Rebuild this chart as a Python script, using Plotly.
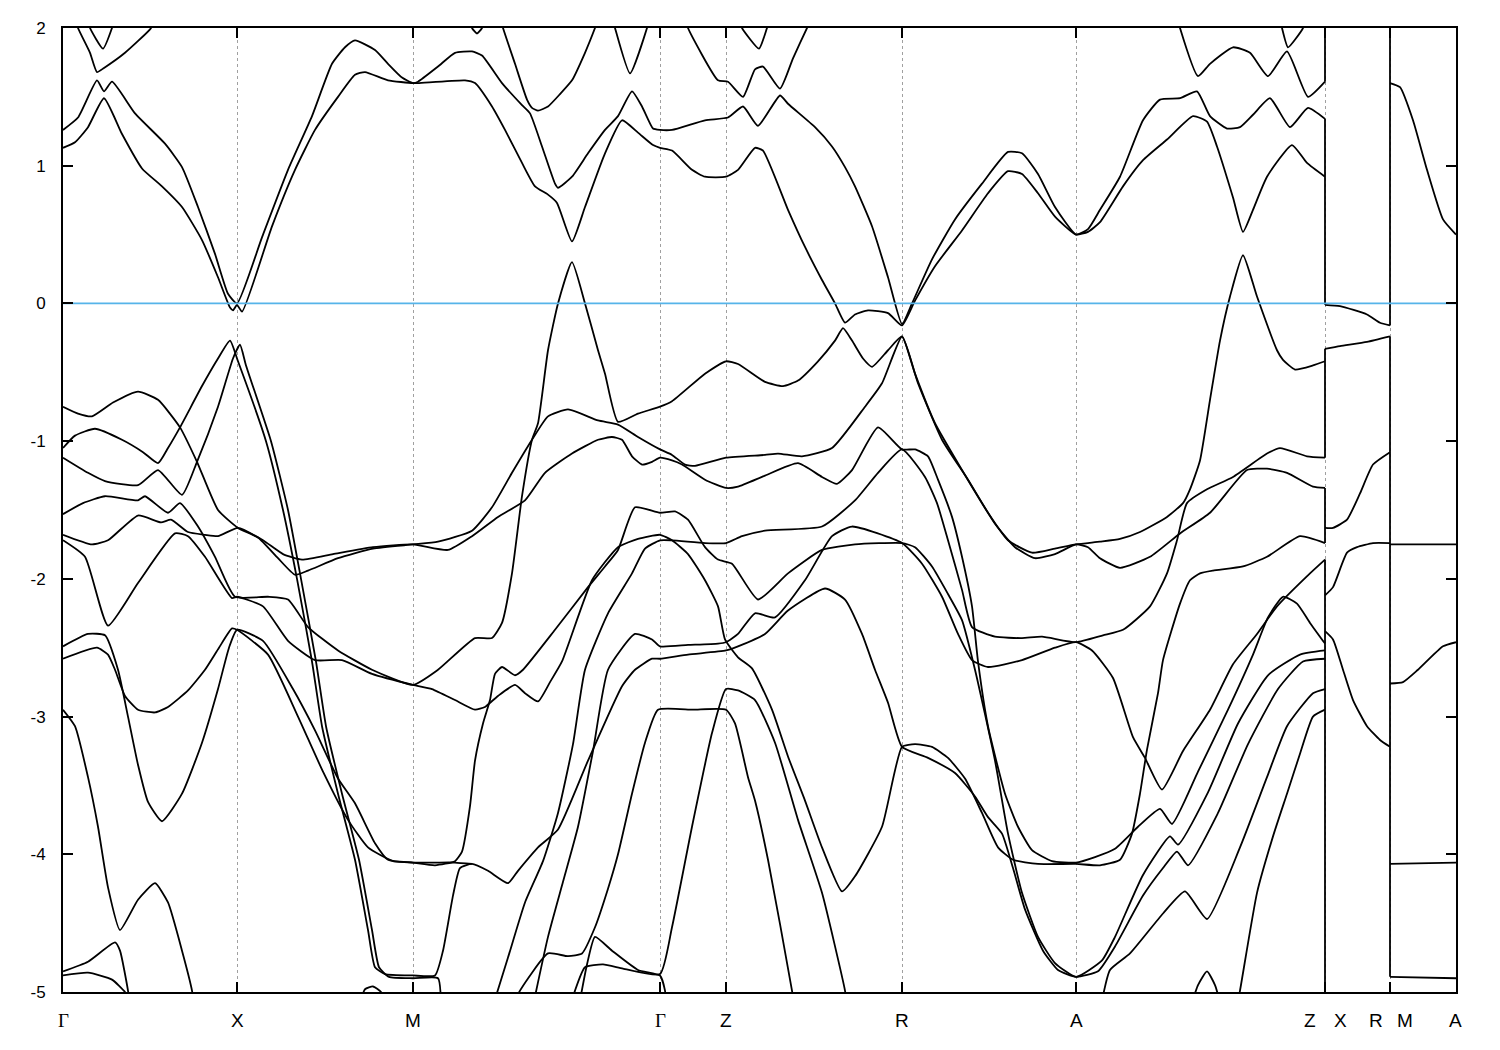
import plotly.graph_objects as go

# ---------------- axis / path definitions ----------------
K_GRID = [1.74, 3.50, 5.97, 6.63, 8.39, 10.13, 12.62, 13.27]
K_END = 13.93
LABEL_K = [0.0, 1.74, 3.50, 5.97, 6.63, 8.39, 10.13, 12.47, 12.77, 13.13, 13.42, 13.92]
LABEL_TEXT = ["Γ", "X", "M", "Γ", "Z", "R", "A", "Z", "X", "R", "M", "A"]
E_TICKS = [2, 1, 0, -1, -2, -3, -4, -5]

# ---------------- conduction bands (k, E) ----------------
C_TOP_LEFT = [(0.12,2.08),(0.15,2.0),(0.27,1.82),(0.34,1.68),(0.41,1.71),(0.62,1.82),(0.87,1.99),(0.92,2.05)]
C_TOP_V = [(0.24,2.08),(0.27,2.0),(0.40,1.85),(0.49,2.0),(0.52,2.08)]
C_UPPER = [(0.0,1.26),(0.15,1.35),(0.34,1.62),(0.41,1.54),(0.49,1.61),(0.72,1.38),(1.02,1.16),(1.19,0.99),
           (1.35,0.70),(1.52,0.36),(1.65,0.07),(1.74,0.0),(1.99,0.48),(2.25,0.97),(2.49,1.36),(2.69,1.74),
           (2.82,1.86),(2.92,1.91),(3.12,1.84),(3.25,1.74),(3.39,1.64),(3.50,1.60),(3.55,1.61),(3.75,1.72),
           (3.92,1.82),(4.09,1.83),(4.19,1.80),(4.39,1.60),(4.59,1.44),(4.67,1.38),(4.79,1.14),(4.92,0.87),
           (4.95,0.84),(5.09,0.92),(5.25,1.09),(5.42,1.26),(5.55,1.36),(5.69,1.54),(5.79,1.43),(5.90,1.27),
           (5.97,1.26),(6.09,1.26),(6.42,1.33),(6.65,1.35),(6.80,1.43),(6.95,1.29),(7.17,1.51),(7.25,1.45),
           (7.52,1.28),(7.69,1.14),(7.82,0.99),(7.92,0.85),(8.09,0.56),(8.25,0.19),(8.39,-0.15),(8.49,0.0),
           (8.69,0.32),(8.92,0.61),(9.19,0.87),(9.45,1.10),(9.59,1.09),(9.75,0.94),(9.92,0.70),(10.13,0.50),
           (10.25,0.54),(10.37,0.68),(10.57,0.92),(10.80,1.33),(10.97,1.48),(11.17,1.49),(11.34,1.54),
           (11.47,1.36),(11.64,1.27),(11.77,1.28),(11.90,1.37),(12.07,1.49),(12.27,1.28),(12.45,1.42),(12.62,1.34)]
C_LOWER = [(0.0,1.13),(0.12,1.17),(0.25,1.28),(0.41,1.49),(0.59,1.23),(0.79,0.98),(0.99,0.85),(1.19,0.70),
           (1.39,0.46),(1.55,0.19),(1.67,-0.03),(1.70,-0.05),(1.74,-0.01),(1.79,-0.06),(2.09,0.56),(2.32,0.97),
           (2.52,1.26),(2.75,1.50),(2.92,1.66),(3.02,1.68),(3.25,1.62),(3.50,1.60),(3.55,1.60),(4.02,1.62),
           (4.12,1.60),(4.29,1.43),(4.42,1.26),(4.59,1.02),(4.72,0.85),(4.85,0.79),(4.94,0.73),(5.09,0.45),
           (5.22,0.70),(5.42,1.09),(5.59,1.33),(5.75,1.24),(5.90,1.15),(5.97,1.13),(6.09,1.11),(6.29,0.97),
           (6.42,0.92),(6.63,0.92),(6.75,0.97),(6.92,1.13),(7.00,1.11),(7.25,0.68),(7.42,0.41),(7.59,0.17),
           (7.72,0.0),(7.82,-0.14),(7.92,-0.08),(8.05,-0.05),(8.25,-0.07),(8.39,-0.16),(8.52,0.02),(8.72,0.27),
           (8.99,0.53),(9.25,0.80),(9.45,0.96),(9.59,0.94),(9.75,0.80),(9.92,0.63),(10.13,0.50),(10.25,0.52),
           (10.37,0.59),(10.60,0.85),(10.80,1.04),(11.04,1.19),(11.30,1.36),(11.44,1.32),(11.54,1.14),
           (11.70,0.77),(11.80,0.52),(11.90,0.68),(12.04,0.92),(12.29,1.15),(12.44,1.02),(12.62,0.92)]
C_U = [(4.37,2.08),(4.40,2.0),(4.52,1.74),(4.64,1.48),(4.69,1.42),(4.75,1.40),(4.85,1.43),(4.97,1.52),
       (5.09,1.62),(5.22,1.82),(5.32,2.0),(5.35,2.06)]
C_DIP = [(4.07,2.06),(4.09,2.0),(4.14,1.96),(4.19,2.0),(4.21,2.06)]
C_V567 = [(5.50,2.06),(5.52,2.0),(5.67,1.67),(5.84,2.0),(5.86,2.06)]
C_T1 = [(6.23,2.06),(6.25,2.0),(6.55,1.62),(6.65,1.61),(6.80,1.50),(6.92,1.70),(7.00,1.72),(7.17,1.56),
        (7.30,1.78),(7.44,2.0),(7.48,2.06)]
C_T2 = [(6.76,2.06),(6.79,2.0),(6.96,1.85),(7.04,2.0),(7.07,2.06)]
C_AZ_TOP = [(11.15,2.06),(11.17,2.0),(11.35,1.65),(11.47,1.74),(11.70,1.86),(11.87,1.82),(12.05,1.65),
            (12.24,1.83),(12.45,1.50),(12.62,1.61)]
C_AZ_V = [(12.17,2.06),(12.19,2.0),(12.25,1.86),(12.40,2.0),(12.42,2.06)]
C_MA = [(13.27,1.60),(13.37,1.57),(13.50,1.33),(13.64,0.97),(13.80,0.61),(13.93,0.50)]
C_XR = [(12.62,-0.01),(12.77,-0.02),(13.04,-0.08),(13.17,-0.14),(13.27,-0.16)]

# ---------------- valence bands (k, E) ----------------
V_A = [(0.0,-0.75),(0.15,-0.80),(0.29,-0.82),(0.50,-0.72),(0.75,-0.64),(0.95,-0.70),(1.17,-0.90),(1.34,-1.15),
       (1.55,-1.50),(1.75,-1.63),(1.95,-1.70),(2.15,-1.85),(2.32,-1.97),(2.45,-1.94),(2.75,-1.85),(3.10,-1.78),
       (3.50,-1.75),(3.75,-1.73),(4.09,-1.65),(4.29,-1.48),(4.49,-1.23),(4.69,-0.99),(4.85,-0.82),(5.05,-0.77),
       (5.35,-0.85),(5.55,-0.88),(5.75,-0.97),(5.97,-1.06),(6.09,-1.10),(6.22,-1.17),(6.32,-1.18),(6.63,-1.12),
       (7.02,-1.10),(7.15,-1.09),(7.39,-1.11),(7.69,-1.05),(8.02,-0.75),(8.19,-0.58),(8.39,-0.24),(8.52,-0.51),
       (8.72,-0.87),(8.99,-1.21),(9.25,-1.52),(9.45,-1.72),(9.69,-1.81),(9.92,-1.78),(10.13,-1.75),(10.37,-1.73),
       (10.57,-1.71),(10.77,-1.66),(11.04,-1.55),(11.20,-1.45),(11.27,-1.35),(11.37,-1.14),(11.47,-0.70),
       (11.57,-0.27),(11.67,0.05),(11.80,0.35),(11.94,0.05),(12.14,-0.34),(12.20,-0.41),(12.32,-0.48),
       (12.50,-0.45),(12.62,-0.42)]
V_B = [(0.0,-1.05),(0.12,-0.96),(0.32,-0.91),(0.59,-0.99),(0.80,-1.08),(0.95,-1.16),(1.05,-1.05),(1.17,-0.90),
       (1.39,-0.60),(1.55,-0.40),(1.67,-0.27),(1.75,-0.42),(2.03,-1.0),(2.20,-1.5),(2.34,-2.0),(2.49,-2.6),
       (2.59,-3.07),(2.75,-3.56),(2.92,-4.04),(3.05,-4.55),(3.12,-4.82),(3.22,-4.87),(3.50,-4.88),(3.72,-4.88),
       (3.80,-4.70),(3.90,-4.30),(3.97,-4.10),(4.09,-4.07),(4.25,-4.12),(4.45,-4.21),(4.55,-4.12),(4.75,-3.95),
       (4.95,-3.82),(5.25,-3.32),(5.59,-2.78),(5.72,-2.66),(5.89,-2.58),(5.97,-2.58),(6.25,-2.55),(6.63,-2.52),
       (6.75,-2.49),(7.02,-2.40),(7.25,-2.23),(7.62,-2.07),(7.82,-2.15),(7.99,-2.40),(8.12,-2.66),(8.25,-2.90),
       (8.39,-3.22),(8.65,-3.30),(8.92,-3.41),(9.12,-3.58),(9.25,-3.73),(9.39,-3.85),(9.50,-4.10),(9.62,-4.40),
       (9.80,-4.70),(9.95,-4.84),(10.13,-4.89),(10.35,-4.85),(10.52,-4.67),(10.80,-4.30),(11.00,-4.10),
       (11.14,-3.98),(11.25,-4.08),(11.55,-3.70),(11.85,-3.20),(12.15,-2.80),(12.40,-2.60),(12.62,-2.58)]
V_C = [(0.0,-1.12),(0.25,-1.23),(0.42,-1.29),(0.75,-1.32),(0.95,-1.21),(1.19,-1.39),(1.34,-1.15),(1.55,-0.75),
       (1.70,-0.40),(1.77,-0.30),(1.83,-0.45),(2.08,-1.0),(2.25,-1.5),(2.38,-2.0),(2.53,-2.6),(2.63,-3.07),
       (2.79,-3.56),(2.96,-4.04),(3.09,-4.55),(3.16,-4.82),(3.26,-4.89),(3.50,-4.90),(3.75,-4.90),(3.78,-5.1)]
V_D = [(0.0,-1.53),(0.20,-1.45),(0.42,-1.40),(0.75,-1.43),(0.82,-1.40),(1.05,-1.52),(1.17,-1.45),(1.35,-1.62),
       (1.52,-1.84),(1.72,-2.13),(2.05,-2.13),(2.25,-2.15),(2.45,-2.35),(2.75,-2.52),(3.09,-2.66),(3.50,-2.77),
       (3.75,-2.66),(4.12,-2.43),(4.29,-2.43),(4.39,-2.32),(4.49,-1.96),(4.59,-1.40),(4.69,-0.99),(4.75,-0.87),
       (4.85,-0.34),(4.95,0.0),(5.09,0.30),(5.22,0.0),(5.35,-0.34),(5.42,-0.51),(5.55,-0.86),(5.75,-0.80),
       (5.97,-0.75),(6.09,-0.71),(6.42,-0.51),(6.63,-0.42),(6.75,-0.44),(7.02,-0.57),(7.20,-0.60),(7.35,-0.56),
       (7.55,-0.42),(7.72,-0.27),(7.80,-0.18),(7.89,-0.27),(8.00,-0.40),(8.09,-0.46),(8.25,-0.34),(8.39,-0.24),
       (8.55,-0.58),(8.79,-0.99),(9.05,-1.28),(9.32,-1.60),(9.52,-1.77),(9.72,-1.85),(9.92,-1.82),(10.13,-1.75),
       (10.25,-1.77),(10.37,-1.85),(10.57,-1.92),(10.87,-1.84),(11.17,-1.67),(11.47,-1.52),(11.84,-1.21),
       (12.04,-1.20),(12.24,-1.23),(12.50,-1.33),(12.62,-1.34)]
V_E = [(0.0,-1.68),(0.29,-1.75),(0.45,-1.72),(0.75,-1.54),(0.98,-1.59),(1.08,-1.57),(1.25,-1.66),(1.42,-1.68),
       (1.55,-1.69),(1.75,-1.63),(2.00,-1.72),(2.20,-1.82),(2.39,-1.86),(2.70,-1.82),(3.10,-1.77),(3.50,-1.75),
       (3.85,-1.79),(4.09,-1.69),(4.35,-1.55),(4.62,-1.43),(4.82,-1.23),(5.09,-1.09),(5.35,-0.99),(5.49,-0.97),
       (5.59,-0.99),(5.69,-1.11),(5.79,-1.17),(5.89,-1.15),(5.97,-1.12),(6.09,-1.14),(6.19,-1.17),(6.42,-1.28),
       (6.63,-1.34),(6.75,-1.33),(7.02,-1.25),(7.35,-1.16),(7.59,-1.26),(7.74,-1.31),(7.89,-1.21),(8.15,-0.90),
       (8.39,-1.06),(8.52,-1.06),(8.65,-1.11),(8.75,-1.28),(8.89,-1.55),(8.99,-1.84),(9.09,-2.20),(9.15,-2.60),
       (9.25,-3.07),(9.42,-3.56),(9.55,-3.80),(9.69,-3.97),(9.89,-4.05),(10.13,-4.06),(10.32,-4.02),(10.52,-3.96),
       (10.75,-3.80),(10.97,-3.67),(11.09,-3.78),(11.35,-3.40),(11.65,-2.95),(11.90,-2.55),(12.05,-2.28),
       (12.20,-2.13),(12.34,-2.18),(12.47,-2.32),(12.62,-2.47)]
V_F = [(0.0,-1.72),(0.22,-1.84),(0.45,-2.34),(0.75,-2.03),(1.12,-1.67),(1.25,-1.69),(1.42,-1.84),(1.69,-2.14),
       (1.74,-2.13),(2.00,-2.20),(2.25,-2.45),(2.52,-2.59),(2.79,-2.59),(3.09,-2.69),(3.50,-2.77),(3.69,-2.80),
       (3.92,-2.88),(4.12,-2.95),(4.22,-2.93),(4.35,-2.85),(4.52,-2.77),(4.62,-2.83),(4.75,-2.89),(4.87,-2.75),
       (4.99,-2.60),(5.29,-2.01),(5.55,-1.77),(5.75,-1.71),(5.97,-1.68),(6.09,-1.72),(6.25,-1.82),(6.42,-2.01),
       (6.55,-2.20),(6.62,-2.44),(6.75,-2.57),(6.89,-2.65),(7.09,-2.95),(7.25,-3.29),(7.42,-3.61),(7.59,-3.95),
       (7.79,-4.27),(7.92,-4.16),(8.19,-3.80),(8.39,-3.22),(8.52,-3.20),(8.69,-3.22),(8.85,-3.30),(9.02,-3.45),
       (9.19,-3.70),(9.35,-3.95),(9.50,-4.04),(9.75,-4.07),(10.13,-4.07),(10.37,-4.08),(10.57,-4.04),
       (10.69,-3.85),(10.77,-3.56),(10.84,-3.24),(10.95,-2.83),(11.00,-2.59),(11.17,-2.18),(11.27,-2.01),
       (11.37,-1.96),(11.50,-1.94),(11.80,-1.91),(12.04,-1.84),(12.37,-1.69),(12.62,-1.74)]
V_G = [(0.0,-2.95),(0.12,-3.07),(0.25,-3.44),(0.35,-3.80),(0.45,-4.24),(0.57,-4.55),(0.75,-4.33),(0.92,-4.21),
       (1.05,-4.35),(1.19,-4.70),(1.29,-4.99),(1.31,-5.1)]
V_H = [(0.0,-2.49),(0.25,-2.40),(0.42,-2.41),(0.55,-2.66),(0.65,-3.0),(0.75,-3.35),(0.85,-3.62),(0.99,-3.76),
       (1.19,-3.56),(1.39,-3.19),(1.55,-2.80),(1.66,-2.50),(1.74,-2.37),(2.00,-2.45),(2.30,-2.80),(2.52,-3.10),
       (2.75,-3.45),(2.92,-3.63),(3.12,-3.92),(3.25,-4.04),(3.50,-4.06),(3.72,-4.08),(3.92,-4.05),(3.99,-3.98),
       (4.07,-3.65),(4.12,-3.32),(4.20,-3.05),(4.27,-2.88),(4.32,-2.69),(4.39,-2.64),(4.52,-2.70),(4.60,-2.66),
       (4.92,-2.37),(5.25,-2.06),(5.42,-1.91),(5.55,-1.79),(5.72,-1.48),(5.97,-1.52),(6.12,-1.51),(6.25,-1.57),
       (6.42,-1.77),(6.55,-1.86),(6.69,-1.89),(6.95,-2.15),(7.25,-1.96),(7.59,-1.79),(7.92,-1.75),(8.39,-1.74),
       (8.52,-1.77),(8.69,-1.91),(8.85,-2.11),(8.99,-2.30),(9.12,-2.66),(9.32,-3.32),(9.45,-3.85),(9.59,-4.28),
       (9.75,-4.60),(9.92,-4.79),(10.13,-4.89),(10.39,-4.77),(10.52,-4.60),(10.80,-4.15),(11.07,-3.87),
       (11.15,-3.93),(11.45,-3.55),(11.75,-3.05),(12.05,-2.70),(12.37,-2.55),(12.62,-2.52)]
V_I = [(0.0,-2.58),(0.34,-2.50),(0.45,-2.55),(0.52,-2.66),(0.62,-2.85),(0.75,-2.95),(0.92,-2.97),(1.05,-2.93),
       (1.25,-2.81),(1.42,-2.66),(1.56,-2.50),(1.69,-2.36),(1.74,-2.37),(2.05,-2.55),(2.35,-3.00),(2.60,-3.40),
       (2.85,-3.75),(3.05,-3.95),(3.30,-4.05),(3.50,-4.06),(3.72,-4.06),(3.92,-4.06),(4.09,-4.07)]
V_J = [(0.0,-4.85),(0.25,-4.78),(0.52,-4.64),(0.57,-4.70),(0.65,-4.99),(0.67,-5.1)]
V_K = [(0.0,-4.88),(0.25,-4.86),(0.49,-4.91),(0.62,-5.0),(0.70,-5.1)]
V_X = [(4.30,-5.1),(4.45,-4.75),(4.62,-4.35),(4.80,-4.05),(4.95,-3.70),(5.10,-3.20),(5.22,-2.66),(5.45,-2.25),
       (5.69,-1.96),(5.82,-1.78),(5.97,-1.72),(6.09,-1.72),(6.42,-1.74),(6.63,-1.74),(6.79,-1.69),(7.02,-1.65),
       (7.59,-1.62),(7.92,-1.43),(8.15,-1.23),(8.39,-1.06),(8.62,-1.26),(8.74,-1.45),(8.85,-1.72),(8.99,-2.08),
       (9.09,-2.35),(9.32,-2.42),(9.59,-2.43),(9.79,-2.42),(10.13,-2.46),(10.40,-2.41),(10.60,-2.37),
       (10.87,-2.20),(11.04,-1.96),(11.14,-1.72),(11.24,-1.45),(11.44,-1.35),(11.70,-1.26),(12.04,-1.09),
       (12.17,-1.05),(12.44,-1.11),(12.62,-1.12)]
V_Y = [(4.70,-5.1),(4.85,-4.60),(5.00,-4.20),(5.15,-3.80),(5.30,-3.25),(5.45,-2.66),(5.72,-2.40),(5.89,-2.44),
       (5.97,-2.49),(6.25,-2.48),(6.55,-2.47),(6.63,-2.46),(6.75,-2.40),(6.92,-2.25),(7.12,-2.28),(7.42,-2.01),
       (7.69,-1.69),(7.89,-1.62),(8.39,-1.74),(8.59,-1.89),(8.79,-2.13),(8.95,-2.40),(9.09,-2.59),(9.25,-2.64),
       (9.59,-2.59),(9.92,-2.50),(10.13,-2.46),(10.29,-2.52),(10.50,-2.72),(10.70,-3.15),(10.82,-3.30),
       (10.99,-3.53),(11.20,-3.25),(11.47,-2.95),(11.70,-2.62),(11.94,-2.40),(12.14,-2.20),(12.47,-1.96),
       (12.62,-1.86)]
V_MG_295 = [(4.50,-5.1),(4.57,-4.99),(4.85,-4.72),(5.05,-4.74),(5.19,-4.72),(5.32,-4.53),(5.45,-4.25),
            (5.55,-4.00),(5.69,-3.56),(5.82,-3.19),(5.95,-2.95),(6.30,-2.95),(6.63,-2.95),(6.72,-3.05),
            (6.85,-3.44),(6.92,-3.61),(7.05,-4.04),(7.29,-4.99),(7.31,-5.1)]
V_MG_280 = [(5.08,-5.1),(5.12,-4.99),(5.22,-4.82),(5.40,-4.80),(5.60,-4.83),(5.97,-4.87),(6.09,-4.53),
            (6.29,-3.80),(6.49,-3.12),(6.63,-2.80),(6.75,-2.81),(6.92,-2.88),(7.12,-3.19),(7.35,-3.75),
            (7.59,-4.28),(7.82,-4.99),(7.84,-5.1)]
V_MG_BUMP = [(5.16,-5.1),(5.24,-4.80),(5.32,-4.60),(5.49,-4.70),(5.75,-4.84),(5.97,-4.88),(6.02,-4.99),(6.03,-5.1)]
V_M_BUMP = [(2.96,-5.1),(3.02,-4.98),(3.10,-4.96),(3.18,-5.0),(3.22,-5.1)]
V_AZ_W4 = [(10.38,-5.1),(10.47,-4.84),(10.67,-4.72),(11.00,-4.43),(11.22,-4.27),(11.44,-4.47),(11.77,-3.95),
           (12.04,-3.44),(12.24,-3.07),(12.50,-2.83),(12.62,-2.80)]
V_AZ_295 = [(11.74,-5.1),(11.77,-4.99),(11.94,-4.28),(12.10,-3.87),(12.24,-3.56),(12.37,-3.27),(12.50,-3.00),
            (12.62,-2.95)]
V_AZ_BUMP = [(11.28,-5.1),(11.35,-4.95),(11.44,-4.85),(11.52,-4.95),(11.58,-5.1)]
V_XR_2 = [(12.62,-0.33),(12.77,-0.31),(13.04,-0.28),(13.27,-0.24)]
V_XR_3 = [(12.62,-1.63),(12.70,-1.63),(12.84,-1.57),(12.97,-1.38),(13.10,-1.17),(13.27,-1.08)]
V_XR_4 = [(12.62,-2.12),(12.70,-2.06),(12.84,-1.81),(12.94,-1.77),(13.10,-1.74),(13.27,-1.74)]
V_XR_5 = [(12.62,-2.38),(12.70,-2.44),(12.80,-2.66),(12.90,-2.88),(13.04,-3.07),(13.17,-3.17),(13.27,-3.22)]
V_MA_1 = [(13.27,-1.75),(13.93,-1.75)]
V_MA_2 = [(13.27,-2.76),(13.40,-2.75),(13.55,-2.66),(13.80,-2.49),(13.93,-2.46)]
V_MA_3 = [(13.27,-4.07),(13.93,-4.06)]
V_MA_4 = [(13.27,-4.89),(13.93,-4.90)]

# vertical band jumps at the path discontinuities (E_low, E_high)
JUMP_ZX = [(1.61, 2.1), (-0.01, 1.34), (-1.12, -0.33), (-1.74, -1.34), (-5.1, -1.86)]
JUMP_RM = [(-0.16, 2.1), (-4.89, -0.24), (-5.1, -4.95)]

BANDS = [C_TOP_LEFT, C_TOP_V, C_UPPER, C_LOWER, C_U, C_DIP, C_V567, C_T1, C_T2, C_AZ_TOP, C_AZ_V, C_MA, C_XR,
         V_A, V_B, V_C, V_D, V_E, V_F, V_G, V_H, V_I, V_J, V_K, V_X, V_Y, V_MG_295, V_MG_280, V_MG_BUMP,
         V_M_BUMP, V_AZ_W4, V_AZ_295, V_AZ_BUMP, V_XR_2, V_XR_3, V_XR_4, V_XR_5, V_MA_1, V_MA_2, V_MA_3, V_MA_4]

fig = go.Figure()

xs, ys = [], []
for band in BANDS:
    for k, e in band:
        xs.append(k)
        ys.append(e)
    xs.append(None)
    ys.append(None)
fig.add_trace(go.Scatter(x=xs, y=ys, mode="lines",
                         line=dict(color="black", width=1.8, shape="spline", smoothing=0.5),
                         hoverinfo="skip", showlegend=False, connectgaps=False))

jx, jy = [], []
for k0, jumps in ((K_GRID[6], JUMP_ZX), (K_GRID[7], JUMP_RM)):
    for lo, hi in jumps:
        jx += [k0, k0, None]
        jy += [lo, hi, None]
fig.add_trace(go.Scatter(x=jx, y=jy, mode="lines", line=dict(color="black", width=1.8),
                         hoverinfo="skip", showlegend=False))

# Fermi level
fig.add_trace(go.Scatter(x=[0, K_END], y=[0, 0], mode="lines",
                         line=dict(color="rgb(86,180,233)", width=1.8),
                         hoverinfo="skip", showlegend=False))

for k, t in zip(LABEL_K, LABEL_TEXT):
    fam = "Liberation Serif" if t == "Γ" else "Liberation Sans"
    fig.add_annotation(x=k, y=0, xref="x", yref="paper", text=t, showarrow=False,
                       yanchor="middle", xanchor="center", yshift=-28,
                       font=dict(family=fam, size=19, color="black"))

fig.update_layout(
    width=1484, height=1034,
    margin=dict(l=55, r=36, t=20, b=50),
    paper_bgcolor="white", plot_bgcolor="white",
    font=dict(family="Liberation Sans", size=17, color="black"),
    showlegend=False,
)
fig.update_xaxes(range=[0, K_END], tickvals=K_GRID, ticktext=[""] * len(K_GRID),
                 ticks="inside", ticklen=10, tickwidth=1.5, tickcolor="black",
                 showgrid=True, gridcolor="#a0a0a0", gridwidth=1, griddash="3px,3px",
                 showline=True, linecolor="black", linewidth=2, mirror="ticks", zeroline=False)
fig.update_yaxes(range=[-5, 2], tickvals=E_TICKS, ticktext=[str(v) for v in E_TICKS],
                 ticks="inside", ticklen=10, tickwidth=1.5, tickcolor="black",
                 showgrid=False, showline=True, linecolor="black", linewidth=2, mirror="ticks",
                 zeroline=False, ticklabelstandoff=12)

fig.write_html("out.html")
